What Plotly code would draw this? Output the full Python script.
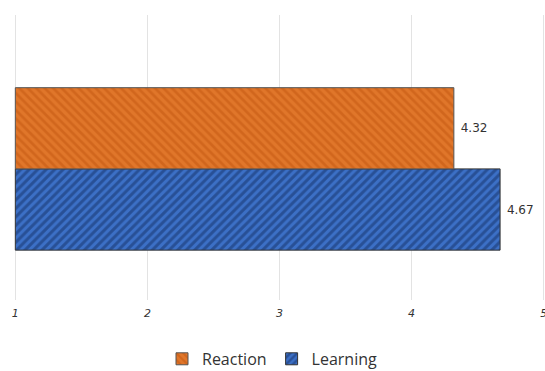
import plotly.graph_objects as go

category = [""]
reaction = [4.32]
learning = [4.67]
reaction_labels = ["4.32"]
learning_labels = ["4.67"]
tick_vals = [1, 2, 3, 4, 5]
tick_text = ["1", "2", "3", "4", "5"]

fig = go.Figure()
fig.add_trace(go.Bar(
    name="Learning", y=category, x=[v - 1 for v in learning], base=1, orientation="h",
    text=[" " + t for t in learning_labels], textposition="outside",
    textfont=dict(family="DejaVu Sans", size=12, color="#333333"),
    marker=dict(color="#3A6FC4", line=dict(color="#333333", width=1),
                pattern=dict(shape="/", fgcolor="#132F66", bgcolor="#3C70C6", size=6, solidity=0.5)),
    cliponaxis=False,
))
fig.add_trace(go.Bar(
    name="Reaction", y=category, x=[v - 1 for v in reaction], base=1, orientation="h",
    text=[" " + t for t in reaction_labels], textposition="outside",
    textfont=dict(family="DejaVu Sans", size=12, color="#333333"),
    marker=dict(color="#DC6A20", line=dict(color="#555555", width=1),
                pattern=dict(shape="\\", fgcolor="#C2560F", bgcolor="#E0762A", size=6, solidity=0.45)),
    cliponaxis=False,
))

fig.update_layout(
    width=545, height=371,
    margin=dict(l=14, r=0, t=15, b=71, autoexpand=False),
    paper_bgcolor="white", plot_bgcolor="white",
    barmode="group", bargap=0.43, bargroupgap=0,
    showlegend=True,
    legend=dict(orientation="h", x=0.5, xanchor="center", xref="container",
                y=-0.147, yanchor="top", yref="paper",
                traceorder="reversed", tracegroupgap=0,
                font=dict(family="Open Sans", size=16, color="#333333")),
    xaxis=dict(range=[0.99, 5.01], tickvals=tick_vals, ticktext=tick_text,
               showgrid=True, gridcolor="#E3E3E3", gridwidth=1, zeroline=False,
               showline=False, ticks="outside", ticklen=3, tickcolor="rgba(0,0,0,0)",
               ticklabeloverflow="allow",
               tickfont=dict(family="DejaVu Sans", size=11, color="#333333", style="italic")),
    yaxis=dict(range=[-0.46, 0.54], showticklabels=False, showgrid=False, zeroline=False,
               showline=False, ticks=""),
)

fig.write_html("out.html")
